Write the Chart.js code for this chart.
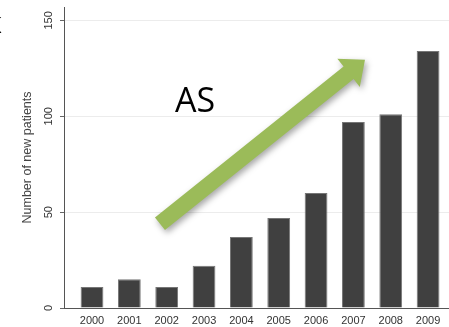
<!DOCTYPE html>
<html lang="en">
<head>
<meta charset="UTF-8">
<title>Number of new patients per year</title>
<script src="https://cdn.jsdelivr.net/npm/chart.js"></script>
<style>
  html, body { margin: 0; padding: 0; background: #fff; overflow: hidden; }
</style>
</head>
<body>
<canvas id="patientsChart" width="449" height="327"></canvas>
<script>
// yearly counts
const years = [2000, 2001, 2002, 2003, 2004, 2005, 2006, 2007, 2008, 2009];
const newPatients = [11, 15, 11, 22, 37, 47, 60, 97, 101, 134];
const yTicks = [0, 50, 100, 150];

// trend arrow + label, in data units
const trendLabel = 'AS';
const trendFrom = { x: 2001.82, y: 43.9 };
const trendTo = { x: 2007.31, y: 129.5 };
const trendLabelAt = { x: 2002.22, y: 102.3 };

const tickFont = { family: "'Liberation Sans', Arial, sans-serif", size: 11 };

const trendArrow = {
  id: 'trendArrow',
  afterDatasetsDraw(chart) {
    const { ctx, scales: { x, y } } = chart;
    const x1 = x.getPixelForValue(trendFrom.x), y1 = y.getPixelForValue(trendFrom.y);
    const x2 = x.getPixelForValue(trendTo.x), y2 = y.getPixelForValue(trendTo.y);
    const ang = Math.atan2(y2 - y1, x2 - x1);
    const len = Math.hypot(x2 - x1, y2 - y1);
    const sw = 8, hl = 21, hw = 18;

    ctx.save();
    ctx.shadowColor = 'rgba(0,0,0,0.35)';
    ctx.shadowBlur = 6;
    ctx.shadowOffsetX = 2;
    ctx.shadowOffsetY = 3;
    ctx.translate(x1, y1);
    ctx.rotate(ang);
    ctx.beginPath();
    ctx.moveTo(0, -sw);
    ctx.lineTo(len - hl, -sw);
    ctx.lineTo(len - hl, -hw);
    ctx.lineTo(len, 0);
    ctx.lineTo(len - hl, hw);
    ctx.lineTo(len - hl, sw);
    ctx.lineTo(0, sw);
    ctx.closePath();
    ctx.fillStyle = '#9bbb59';
    ctx.fill();
    ctx.restore();

    ctx.save();
    ctx.font = "34px 'Open Sans', sans-serif";
    ctx.fillStyle = '#000';
    ctx.textBaseline = 'alphabetic';
    ctx.fillText(trendLabel, x.getPixelForValue(trendLabelAt.x), y.getPixelForValue(trendLabelAt.y));
    // clipped letter from neighbouring slide text
    ctx.font = "22px 'Open Sans', sans-serif";
    ctx.fillText('K', -12, 33);
    ctx.restore();
  }
};

new Chart(document.getElementById('patientsChart'), {
  type: 'bar',
  data: {
    datasets: [{
      data: years.map((yr, i) => ({ x: yr, y: newPatients[i] })),
      backgroundColor: '#404040',
      borderColor: '#767676',
      borderWidth: 1,
      categoryPercentage: 1,
      barPercentage: 0.61
    }]
  },
  options: {
    responsive: false,
    animation: false,
    layout: { padding: { top: 7, right: 0, bottom: 0, left: 0 } },
    plugins: { legend: { display: false }, tooltip: { enabled: false } },
    scales: {
      x: {
        type: 'linear',
        offset: false,
        min: 1999.25,
        max: 2009.56,
        afterBuildTicks: s => { s.ticks = years.map(v => ({ value: v })); },
        afterFit: s => { s.height = 19; s.paddingLeft = 0; s.paddingRight = 0; },
        grid: { display: false, drawTicks: false },
        border: { color: '#555', width: 1 },
        ticks: { font: tickFont, color: '#333', padding: 6, maxRotation: 0, callback: v => String(v) }
      },
      y: {
        min: 0,
        max: 157,
        afterBuildTicks: s => { s.ticks = yTicks.map(v => ({ value: v })); },
        afterFit: s => { s.width = 64; s.paddingTop = 0; s.paddingBottom = 0; },
        grid: { color: '#ececec', tickColor: '#666', tickLength: 4 },
        border: { color: '#555', width: 1 },
        ticks: { font: tickFont, color: '#333', minRotation: 90, maxRotation: 90, crossAlign: 'center', padding: 2 },
        title: {
          display: true,
          text: 'Number of new patients',
          color: '#444',
          font: { family: "'Liberation Sans', Arial, sans-serif", size: 12.5 },
          padding: { top: 20, bottom: 0 }
        }
      }
    }
  },
  plugins: [trendArrow]
});
</script>
</body>
</html>
